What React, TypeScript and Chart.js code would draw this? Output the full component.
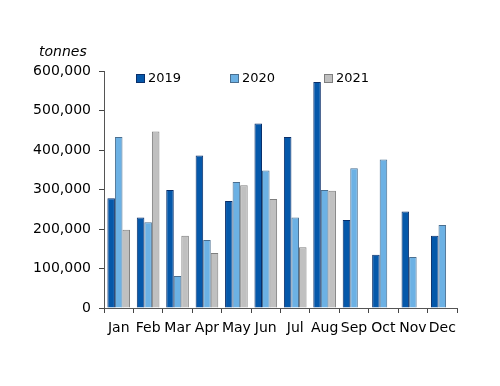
import React, { useEffect, useRef } from "react";
import { Chart, registerables } from "chart.js";

Chart.register(...registerables);

const months = ["Jan", "Feb", "Mar", "Apr", "May", "Jun", "Jul", "Aug", "Sep", "Oct", "Nov", "Dec"];
const series2019 = [278000, 229000, 299000, 386000, 271000, 467000, 433000, 572000, 223000, 135000, 244000, 183000];
const series2020 = [433000, 217000, 81000, 172000, 319000, 348000, 229000, 299000, 354000, 376000, 129000, 210000];
const series2021 = [198000, 447000, 183000, 139000, 311000, 276000, 154000, 297000, null, null, null, null];
const yUnit = "tonnes";

const FONT = "'DejaVu Sans', Verdana, sans-serif";

const overlayPlugin = {
  id: "overlay",
  afterDraw(chart: any) {
    const ctx = chart.ctx;
    ctx.save();
    // unit label
    ctx.font = `italic 14px ${FONT}`;
    ctx.fillStyle = "#000";
    ctx.textAlign = "left";
    ctx.textBaseline = "middle";
    ctx.fillText(yUnit, 39, 52);
    // legend
    const xs = [136, 230, 324];
    const y = 79;
    ctx.font = `13px ${FONT}`;
    chart.data.datasets.forEach((ds: any, i: number) => {
      const x = xs[i];
      ctx.fillStyle = ds.backgroundColor;
      ctx.fillRect(x + 0.5, y - 4.5, 8, 8);
      ctx.strokeStyle = ds.borderColor;
      ctx.lineWidth = 1;
      ctx.strokeRect(x + 0.5, y - 4.5, 8, 8);
      ctx.fillStyle = "#000";
      ctx.fillText(ds.label, x + 12, y);
    });
    ctx.restore();
  },
};

export default function App() {
  const ref = useRef<HTMLCanvasElement | null>(null);
  useEffect(() => {
    document.body.style.margin = "0";
    const chart = new Chart(ref.current as HTMLCanvasElement, {
      type: "bar",
      data: {
        labels: months,
        datasets: [
          { label: "2019", data: series2019, backgroundColor: "#0558AA", borderColor: "#0A2F6A", borderWidth: 1 },
          { label: "2020", data: series2020, backgroundColor: "#6CB1E4", borderColor: "#4A6F90", borderWidth: 1 },
          { label: "2021", data: series2021 as any, backgroundColor: "#C0C0C0", borderColor: "#7E7E7E", borderWidth: 1 },
        ],
      },
      options: {
        animation: false,
        responsive: false,
        devicePixelRatio: 1,
        layout: { padding: { top: 71, right: 43, bottom: 48, left: 0 } },
        plugins: { legend: { display: false }, tooltip: { enabled: false } },
        datasets: { bar: { categoryPercentage: 0.77, barPercentage: 1 } },
        scales: {
          x: {
            afterFit: (s: any) => { s.height = 30; },
            grid: { display: true, drawOnChartArea: false, drawTicks: true, tickLength: 5, color: "#444", offset: true },
            border: { display: true, color: "#555", width: 1 },
            ticks: { color: "#000", font: { family: FONT, size: 14 }, padding: 7, maxRotation: 0, autoSkip: false },
          },
          y: {
            min: 0,
            max: 600000,
            afterFit: (s: any) => { s.width = 104; },
            grid: { display: true, drawOnChartArea: false, drawTicks: true, tickLength: 5, color: "#444" },
            border: { display: true, color: "#555", width: 1 },
            ticks: {
              stepSize: 100000,
              color: "#000",
              padding: 8,
              font: { family: FONT, size: 14 },
              callback: (v: any) => Number(v).toLocaleString("en-US"),
            },
          },
        },
      },
      plugins: [overlayPlugin],
    });
    return () => chart.destroy();
  }, []);
  return (
    <div style={{ width: 500, height: 386 }}>
      <canvas ref={ref} width={500} height={386} style={{ display: "block" }} />
    </div>
  );
}
